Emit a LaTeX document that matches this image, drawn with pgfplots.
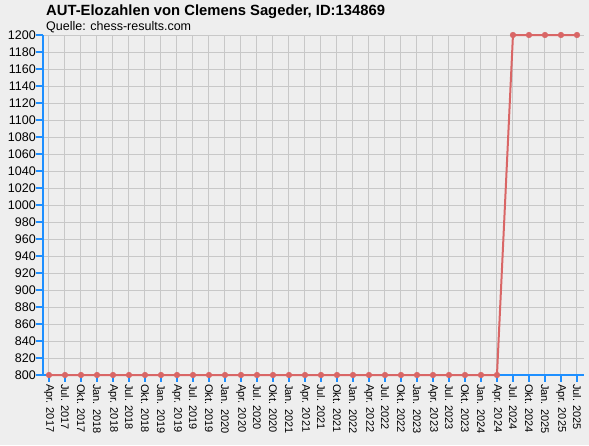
\documentclass[border=0pt]{standalone}
\usepackage{pgfplots}
\pgfplotsset{compat=1.18}
\usepackage{fontspec}
\setmainfont{Liberation Sans}
\definecolor{bgcol}{HTML}{EEEEEE}
\definecolor{gridcol}{HTML}{C8C8C8}
\definecolor{axblue}{HTML}{1E8FFF}
\definecolor{linered}{HTML}{D96666}
\begin{document}
\begin{tikzpicture}
\fill[bgcol] (0pt,0pt) rectangle (589pt,445pt);
\useasboundingbox (0pt,0pt) rectangle (589pt,445pt);
\node[anchor=base west, inner sep=0] at (46pt,429pt) {\fontsize{14.8}{18}\selectfont\bfseries AUT-Elozahlen von Clemens Sageder, ID:134869};
\node[anchor=base west, inner sep=0] at (46pt,414pt) {\fontsize{12.5}{15}\selectfont Quelle: chess-results.com};
\begin{axis}[
  at={(43pt,70pt)}, anchor=south west,
  scale only axis, width=541pt, height=340pt,
  xmin=-0.375, xmax=33.44, ymin=800, ymax=1200,
  axis x line*=bottom, axis y line*=left,
  axis line style={-, axblue, line width=2pt},
  major tick length=0pt,
  ytick={800,820,...,1200},
  xtick={0,...,33},
  xticklabels={Apr. 2017,Jul. 2017,Okt. 2017,Jan. 2018,Apr. 2018,Jul. 2018,Okt. 2018,Jan. 2019,Apr. 2019,Jul. 2019,Okt. 2019,Jan. 2020,Apr. 2020,Jul. 2020,Okt. 2020,Jan. 2021,Apr. 2021,Jul. 2021,Okt. 2021,Jan. 2022,Apr. 2022,Jul. 2022,Okt. 2022,Jan. 2023,Apr. 2023,Jul. 2023,Okt. 2023,Jan. 2024,Apr. 2024,Jul. 2024,Okt. 2024,Jan. 2025,Apr. 2025,Jul. 2025},
  xticklabel style={yshift=-8pt, rotate=-90, anchor=west, font=\fontsize{11}{13}\selectfont, inner sep=1pt},
  yticklabel style={xshift=-6pt, font=\fontsize{12.5}{15}\selectfont, inner sep=1pt},
  /pgf/number format/assume math mode=true,
  /pgf/number format/1000 sep={},
  xmajorgrids, ymajorgrids,
  major grid style={gridcol, line width=1pt},
  axis background/.style={fill=bgcol},
  clip=false,
]
\addplot[draw=none, only marks, mark=|, mark size=3.5pt, mark options={draw=axblue, line width=2pt, yshift=-3.5pt}] coordinates {
(0,800)(1,800)(2,800)(3,800)(4,800)(5,800)(6,800)(7,800)(8,800)(9,800)
(10,800)(11,800)(12,800)(13,800)(14,800)(15,800)(16,800)(17,800)(18,800)(19,800)
(20,800)(21,800)(22,800)(23,800)(24,800)(25,800)(26,800)(27,800)(28,800)
(29,800)(30,800)(31,800)(32,800)(33,800)
};
\addplot[draw=none, only marks, mark=-, mark size=3.5pt, mark options={draw=axblue, line width=2pt, xshift=-3.5pt}] coordinates {
(-0.375,800)(-0.375,820)(-0.375,840)(-0.375,860)(-0.375,880)(-0.375,900)(-0.375,920)
(-0.375,940)(-0.375,960)(-0.375,980)(-0.375,1000)(-0.375,1020)(-0.375,1040)(-0.375,1060)
(-0.375,1080)(-0.375,1100)(-0.375,1120)(-0.375,1140)(-0.375,1160)(-0.375,1180)(-0.375,1200)
};
\addplot[linered, line width=2pt, mark=*, mark size=2.8pt, mark options={fill=linered, draw=linered, line width=0.5pt}] coordinates {
(0,800)(1,800)(2,800)(3,800)(4,800)(5,800)(6,800)(7,800)(8,800)(9,800)
(10,800)(11,800)(12,800)(13,800)(14,800)(15,800)(16,800)(17,800)(18,800)(19,800)
(20,800)(21,800)(22,800)(23,800)(24,800)(25,800)(26,800)(27,800)(28,800)
(29,1200)(30,1200)(31,1200)(32,1200)(33,1200)
};
\end{axis}
\end{tikzpicture}
\end{document}
